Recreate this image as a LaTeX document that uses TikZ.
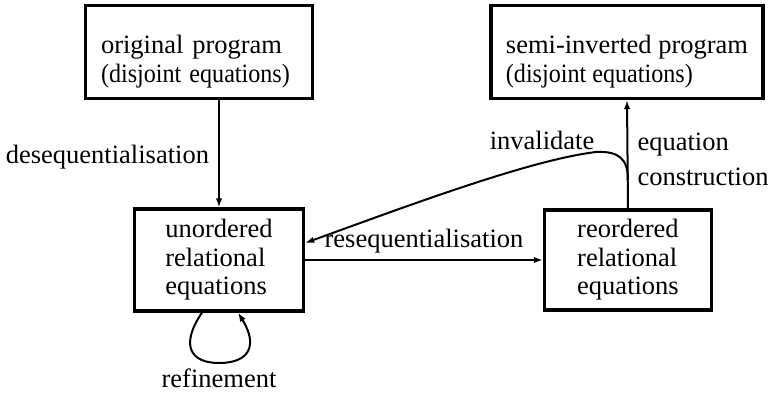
\documentclass[tikz,border=0pt]{standalone}
\usepackage{fontspec}
\usepackage{graphicx}
\setmainfont{Liberation Serif}
\usetikzlibrary{arrows.meta,calc}
\begin{document}
\begin{tikzpicture}[x=0.5pt,y=-0.5pt,
  every node/.style={font=\fontsize{13.25pt}{14.25pt}\selectfont},
  box/.style={draw,line width=1.6pt,align=left},
  wide/.style={inner ysep=0pt,minimum height=46.5pt,font=\fontsize{13.25pt}{14.5pt}\selectfont},
  conn/.style={line width=1pt,-{Latex[length=4.5pt,width=3.2pt]}}]
\useasboundingbox (0,0) rectangle (773,395);

% the four boxes (the top two carry a strut that lowers their text)
\node[box,wide,inner xsep=7.75pt,text width=98pt]
  (orig) at (199,52) {\rule{0pt}{19pt}original program\\\scalebox{0.91}[1]{(disjoint equations)}};
\node[box,wide,minimum width=136pt]
  (semi) at (627,52) {\rule{0pt}{19pt}semi-inverted program\\\scalebox{0.91}[1]{(disjoint equations)}};
\node[box,inner sep=0pt,minimum width=84.5pt,minimum height=51pt]
  (unord) at (219,260) {unordered\\relational\\equations};
\node[box,inner sep=0pt,minimum width=83.5pt,minimum height=50pt]
  (reord) at (628,260) {reordered\\relational\\equations};

% straight connectors
\draw[conn] (unord.north |- orig.south) --
  node[left,inner sep=4.5pt,yshift=-1.5pt] (deseq) {desequentialisation} (unord.north);
\draw[conn] (unord.east) --
  node[above,inner sep=3pt] (reseq) {resequentialisation} (reord.west);
\draw[conn] (reord.north) --
  node[right,inner sep=4.5pt,align=left,yshift=-2.5pt] (eqc) {equation\\[3.25pt]construction} (semi.south);

% invalidation feeds back from the construction step
\coordinate (inv) at (628,180);
\draw[conn] (inv) .. controls (628,158) and (618,151) .. (596,152)
  .. controls (530,160) and (410,205) .. ($(unord.east)+(0,-17)$);
\node (invl) at (542,140) {invalidate};

% refinement loop
\draw[conn] ($(unord.south)+(-17,0)$) .. controls (180,345) and (190,363) .. (219,363)
  .. controls (250,363) and (258,345) .. ($(unord.south)+(19,0)$);
\node (refl) at (219,378) {refinement};
\end{tikzpicture}
\end{document}
